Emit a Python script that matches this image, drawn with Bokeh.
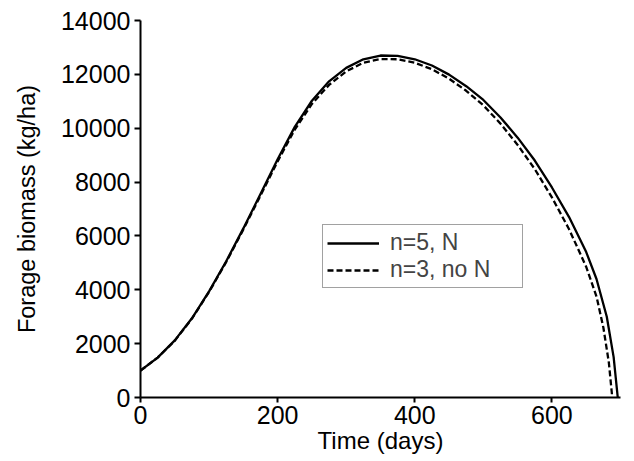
from bokeh.plotting import figure
from bokeh.models import (ColumnDataSource, Legend, LegendItem, Range1d, FixedTicker,
                          LinearAxis)
from bokeh.embed import file_html
from bokeh.resources import INLINE

# Data
days_n5 = [0, 25, 50, 75, 100, 125, 150, 175, 200, 225, 250, 275, 300, 325, 350,
           375, 400, 425, 450, 475, 500, 525, 550, 575, 600, 625, 650, 665, 680, 690, 696]
biomass_n5 = [1000, 1480, 2120, 2940, 3940, 5060, 6280, 7560, 8850, 10050, 11020,
              11740, 12240, 12560, 12700, 12690, 12560, 12330, 11990, 11560, 11050,
              10400, 9650, 8800, 7800, 6700, 5400, 4400, 3000, 1500, 0]

days_n3 = [0, 25, 50, 75, 100, 125, 150, 175, 200, 225, 250, 275, 300, 325, 350,
           375, 400, 425, 450, 475, 500, 525, 550, 575, 600, 625, 650, 665, 675, 683, 688]
biomass_n3 = [1000, 1480, 2110, 2930, 3920, 5030, 6240, 7500, 8770, 9950, 10900,
              11610, 12110, 12430, 12570, 12560, 12430, 12190, 11840, 11390, 10850,
              10170, 9380, 8480, 7430, 6250, 4850, 3750, 2600, 1300, 0]

x_ticks = [0, 200, 400, 600]
y_ticks = [0, 2000, 4000, 6000, 8000, 10000, 12000, 14000]
series_labels = ["n=5, N", "n=3, no N"]
x_title = "Time (days)"
y_title = "Forage biomass (kg/ha)"

FONT = "Liberation Sans"
FS = "25px"

p = figure(width=630, height=456, output_backend="svg", toolbar_location=None,
           x_range=Range1d(0, 700), y_range=Range1d(0, 14000),
           min_border_left=140, min_border_right=10, min_border_top=20,
           min_border_bottom=53)
p.outline_line_color = None
p.xgrid.visible = False
p.ygrid.visible = False
p.background_fill_color = "white"
p.border_fill_color = "white"

src5 = ColumnDataSource(dict(x=days_n5, y=biomass_n5))
src3 = ColumnDataSource(dict(x=days_n3, y=biomass_n3))
r5 = p.line("x", "y", source=src5, line_color="black", line_width=2.3)
r3 = p.line("x", "y", source=src3, line_color="black", line_width=2.3,
            line_dash="6 3")

for ax in (p.xaxis[0], p.yaxis[0]):
    ax.axis_line_width = 2
    ax.axis_line_color = "black"
    ax.major_tick_line_width = 2
    ax.major_tick_line_color = "black"
    ax.major_tick_in = 0
    ax.minor_tick_line_color = None
    ax.major_label_text_font = FONT
    ax.major_label_text_font_size = FS
    ax.major_label_text_color = "black"
    ax.axis_label_text_font = FONT
    ax.axis_label_text_font_style = "normal"
    ax.axis_label_text_color = "black"

p.xaxis.ticker = FixedTicker(ticks=x_ticks)
p.yaxis.ticker = FixedTicker(ticks=y_ticks)
p.xaxis.major_tick_out = 5
p.yaxis.major_tick_out = 6
p.xaxis.major_label_standoff = 3
p.yaxis.major_label_standoff = 4
p.xaxis.axis_label = x_title
p.xaxis.axis_label_text_font_size = "24px"
p.xaxis.axis_label_standoff = 0

# y title carried by a bare outer axis, so that its centre can be placed
title_axis = LinearAxis(axis_label=y_title, ticker=FixedTicker(ticks=[]),
                        bounds=(0, 12750))
title_axis.axis_line_color = None
title_axis.major_tick_line_color = None
title_axis.minor_tick_line_color = None
title_axis.major_tick_out = 0
title_axis.major_label_standoff = 0
title_axis.axis_label_standoff = 18
title_axis.axis_label_text_font = FONT
title_axis.axis_label_text_font_size = "23.5px"
title_axis.axis_label_text_font_style = "normal"
title_axis.axis_label_text_color = "black"
p.add_layout(title_axis, "left")

legend = Legend(items=[LegendItem(label=series_labels[0], renderers=[r5]),
                       LegendItem(label=series_labels[1], renderers=[r3])],
                location=(182, 109))
legend.glyph_width = 52
legend.glyph_height = 20
legend.label_height = 20
legend.label_width = 128
legend.label_standoff = 11
legend.padding = 4
legend.spacing = 0
legend.margin = 0
legend.label_text_font = FONT
legend.label_text_font_size = "23px"
legend.border_line_color = "#444444"
legend.border_line_width = 1
legend.background_fill_alpha = 1
p.add_layout(legend, "center")

open("out.html", "w").write(file_html(p, INLINE))
